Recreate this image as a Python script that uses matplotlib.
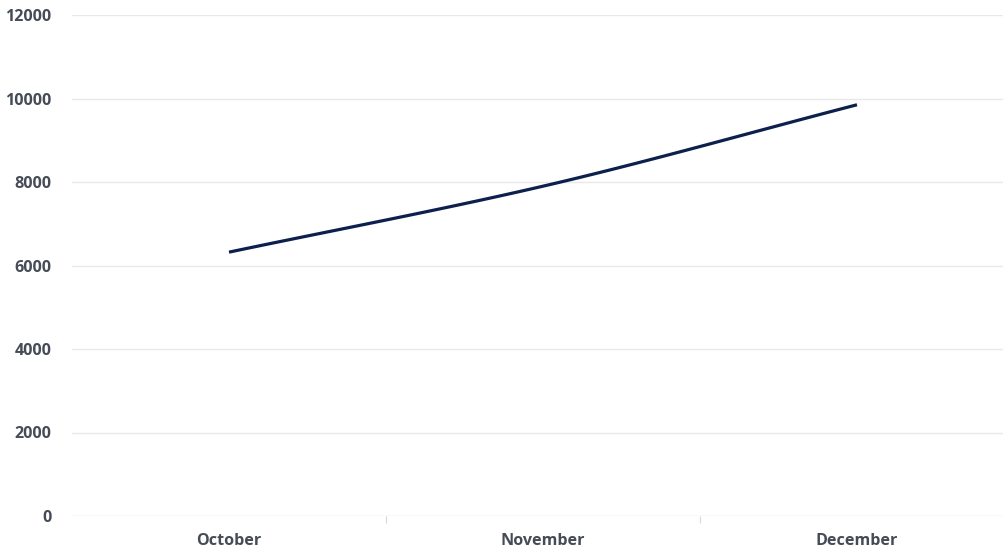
import numpy as np
import matplotlib
matplotlib.use("Agg")
import matplotlib.pyplot as plt

categories = ["October", "November", "December"]
values = [6320, 7900, 9850]
yticks = [0, 2000, 4000, 6000, 8000, 10000, 12000]

def monotone_curve(x, y, n=60):
    x = np.asarray(x, float); y = np.asarray(y, float)
    h = np.diff(x); d = np.diff(y) / h
    m = np.zeros_like(y)
    m[0] = d[0]; m[-1] = d[-1]
    for i in range(1, len(y) - 1):
        if d[i-1] * d[i] <= 0:
            m[i] = 0
        else:
            w1 = 2*h[i] + h[i-1]; w2 = h[i] + 2*h[i-1]
            m[i] = (w1 + w2) / (w1/d[i-1] + w2/d[i])
    xs, ys = [], []
    for i in range(len(x) - 1):
        t = np.linspace(0, 1, n)
        h00 = 2*t**3 - 3*t**2 + 1; h10 = t**3 - 2*t**2 + t
        h01 = -2*t**3 + 3*t**2; h11 = t**3 - t**2
        xs.append(x[i] + t*h[i])
        ys.append(h00*y[i] + h10*h[i]*m[i] + h01*y[i+1] + h11*h[i]*m[i+1])
    return np.concatenate(xs), np.concatenate(ys)

plt.rcParams['font.family'] = ['Open Sans', 'DejaVu Sans']

fig = plt.figure(figsize=(10.04, 5.48), dpi=100)
ax = fig.add_axes([72/1004, 1 - 516/548, 1 - 72/1004, (516 - 15)/548])

xpos = np.arange(len(categories))
cx, cy = monotone_curve(xpos, values)
ax.plot(cx, cy, color="#0d1f4d", lw=2.3, solid_capstyle="butt", zorder=3)

ax.set_xlim(-0.5, -0.5 + 932/314)
ax.set_ylim(0, 12000)
ax.set_yticks(yticks)
ax.set_yticklabels([str(v) for v in yticks])
ax.set_xticks(xpos)
ax.set_xticklabels(categories)
ax.set_xticks([0.5, 1.5], minor=True)

for v in yticks[1:]:
    ax.axhline(v, color="#e8e8e8", lw=1, zorder=1)
ax.axhline(0, color="#dcdcdc", lw=1, zorder=2)

for s in ax.spines.values():
    s.set_visible(False)

ax.tick_params(axis='y', length=0, pad=15, labelsize=11.6, labelcolor="#464c57")
ax.tick_params(axis='x', which='major', length=0, pad=12, labelsize=11.6, labelcolor="#464c57")
ax.tick_params(axis='x', which='minor', length=5, width=1, color="#dcdcdc", direction='out')
for lab in ax.get_xticklabels() + ax.get_yticklabels():
    lab.set_fontweight('bold')

fig.savefig("out.png", dpi=100)
